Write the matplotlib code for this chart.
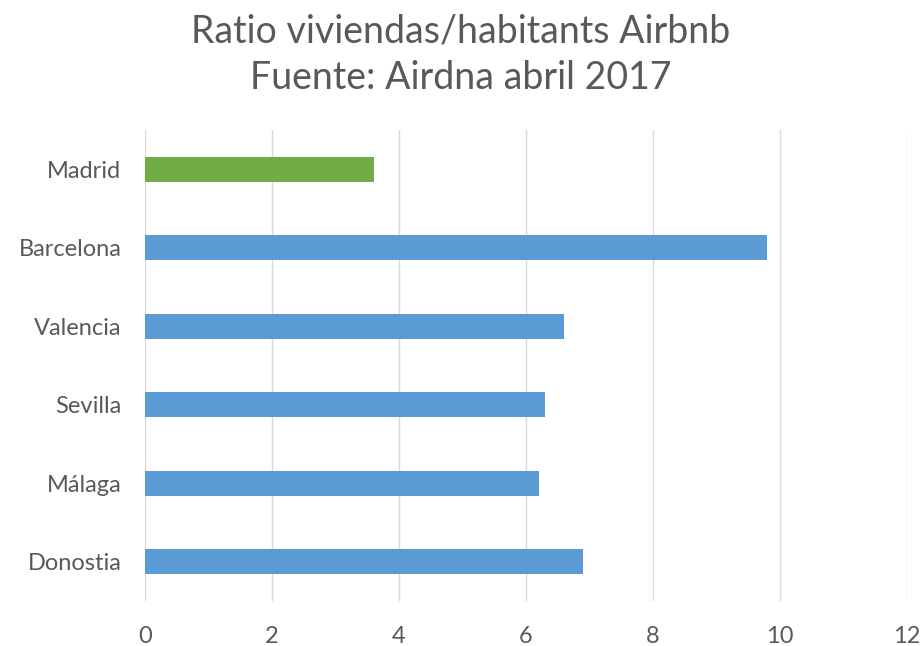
import matplotlib
matplotlib.use("Agg")
import matplotlib.pyplot as plt

plt.rcParams['font.family'] = ['Lato', 'DejaVu Sans']

cities = ["Madrid", "Barcelona", "Valencia", "Sevilla", "Málaga", "Donostia"]
values = [3.6, 9.8, 6.6, 6.3, 6.2, 6.9]
colors = ["#70AD47", "#5B9BD5", "#5B9BD5", "#5B9BD5", "#5B9BD5", "#5B9BD5"]
xticks = [0, 2, 4, 6, 8, 10, 12]
title_lines = ["Ratio viviendas/habitants Airbnb", "Fuente: Airdna abril 2017"]

fig = plt.figure(figsize=(9.22, 6.46), dpi=100)
ax = fig.add_axes([145/922, 1 - 601/646, (907-145)/922, (601-130)/646])

y = list(range(len(cities)))
ax.barh(y, values, height=0.32, color=colors, zorder=3)
ax.set_ylim(len(cities) - 0.5, -0.5)
ax.set_xlim(0, 12)
ax.set_xticks(xticks)
ax.set_xticklabels([str(t) for t in xticks])
ax.set_yticks(y)
ax.set_yticklabels(cities)
ax.grid(axis='x', color='#D9D9D9', linewidth=1, zorder=0)
ax.grid(axis='y', visible=False)
for s in ax.spines.values():
    s.set_visible(False)
ax.tick_params(axis='both', length=0, colors='#595959', labelsize=17)
ax.tick_params(axis='x', pad=18)
ax.tick_params(axis='y', pad=17)

fig.text(0.5, 1 - 31/646, title_lines[0], ha='center', va='center', fontsize=27,
         color='#595959')
fig.text(0.5, 1 - 78/646, title_lines[1], ha='center', va='center', fontsize=27,
         color='#595959')

fig.savefig("out.png", dpi=100)
